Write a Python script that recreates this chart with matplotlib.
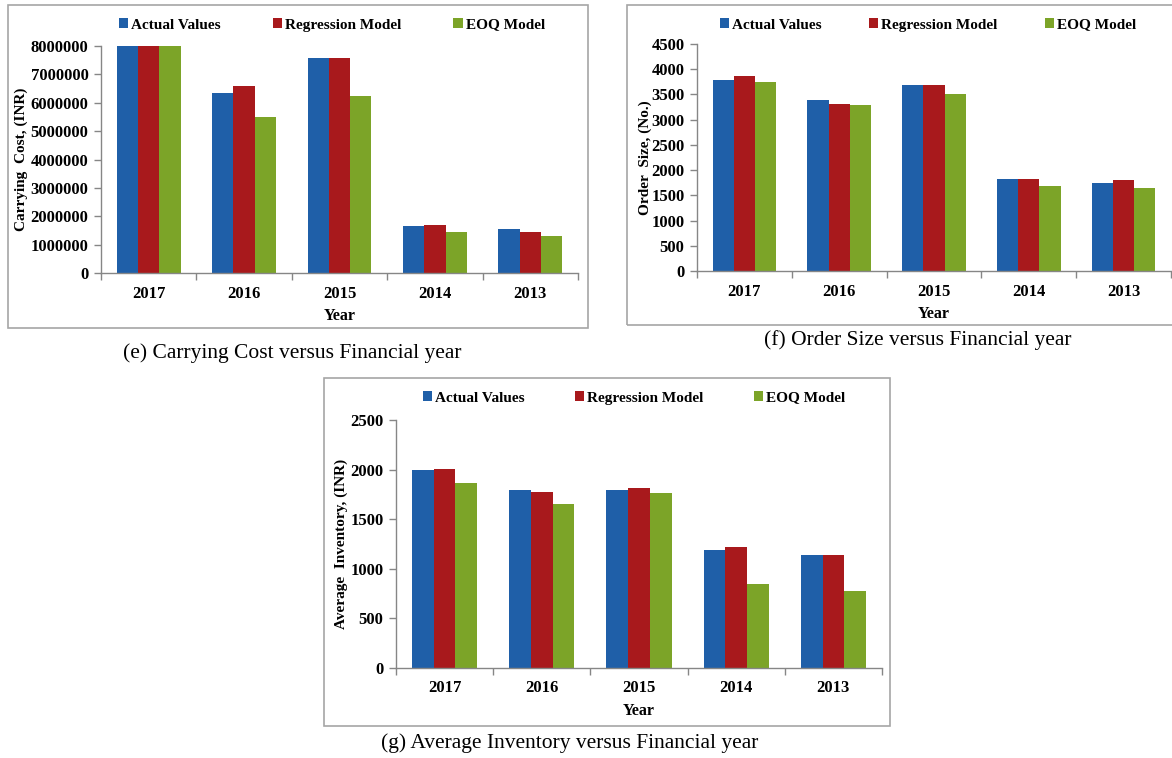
import numpy as np
import matplotlib
matplotlib.use("Agg")
import matplotlib.pyplot as plt
from matplotlib.patches import Rectangle
from matplotlib.ticker import FuncFormatter, FixedLocator

plt.rcParams['font.family'] = ['Liberation Serif', 'DejaVu Serif']

years = ["2017", "2016", "2015", "2014", "2013"]
series_names = ["Actual Values", "Regression Model", "EOQ Model"]
colors = ["#1F5FA8", "#A8191C", "#7CA428"]

# (e) carrying cost
cost_actual = [8000000, 6350000, 7570000, 1660000, 1540000]
cost_regr = [8000000, 6600000, 7570000, 1700000, 1455000]
cost_eoq = [8000000, 5510000, 6250000, 1455000, 1315000]

# (f) order size
order_actual = [3790, 3393, 3685, 1829, 1749]
order_regr = [3857, 3313, 3685, 1816, 1796]
order_eoq = [3744, 3293, 3512, 1677, 1637]

# (g) average inventory
inv_actual = [1995, 1797, 1797, 1194, 1144]
inv_regr = [2005, 1777, 1810, 1221, 1144]
inv_eoq = [1864, 1649, 1766, 848, 777]

W, H = 1172, 758
fig = plt.figure(figsize=(W / 100, H / 100), dpi=100)


def px_axes(left, right, top, bottom):
    return fig.add_axes([left / W, 1 - bottom / H, (right - left) / W, (bottom - top) / H])


def frame(x0, y0, x1, y1):
    fig.patches.append(Rectangle((x0 / W, 1 - y1 / H), (x1 - x0) / W, (y1 - y0) / H,
                                 transform=fig.transFigure, fill=False,
                                 edgecolor="#a6a6a6", linewidth=1.2, clip_on=False))


def panel(box, axbox, data, ymax, ystep, ylabel, ylab_x, leg_xy, colsp, caption, cap_xy):
    frame(*box)
    ax = px_axes(*axbox)
    x = np.arange(len(years))
    w = 0.223
    for i, (vals, name, c) in enumerate(zip(data, series_names, colors)):
        ax.bar(x + (i - 1) * w, vals, width=w, color=c, label=name)
    ax.set_xlim(-0.5, len(years) - 0.5)
    ax.set_ylim(0, ymax)
    ax.set_yticks(np.arange(0, ymax + 1, ystep))
    ax.yaxis.set_major_formatter(FuncFormatter(lambda v, p: f"{int(v)}"))
    ax.xaxis.set_major_locator(FixedLocator(np.arange(-0.5, len(years), 1.0)))
    ax.set_xticks(x, minor=True)
    ax.set_xticklabels([], minor=False)
    ax.set_xticklabels(years, minor=True)
    ax.tick_params(axis="x", which="minor", length=0, pad=9, labelsize=12)
    ax.tick_params(axis="x", which="major", length=5, color="#868686", width=1)
    ax.tick_params(axis="y", length=5, color="#868686", width=1, labelsize=12, pad=4)
    for lab in ax.get_xticklabels(minor=True) + ax.get_yticklabels():
        lab.set_fontweight("bold")
    for s in ["top", "right"]:
        ax.spines[s].set_visible(False)
    for s in ["left", "bottom"]:
        ax.spines[s].set_color("#868686")
        ax.spines[s].set_linewidth(1)
    ax.set_xlabel("Year", fontsize=11.5, fontweight="bold", labelpad=5)
    fig.text(ylab_x / W, 1 - (axbox[2] + axbox[3]) / 2 / H, ylabel, rotation=90,
             ha="center", va="center", fontsize=11, fontweight="bold")
    ax.legend(loc="center", bbox_to_anchor=(leg_xy[0] / W, 1 - leg_xy[1] / H),
              bbox_transform=fig.transFigure, ncol=3, frameon=False,
              handlelength=0.6, handleheight=0.6, handletextpad=0.2,
              columnspacing=colsp, prop={"size": 11, "weight": "bold"})
    fig.text(cap_xy[0] / W, 1 - cap_xy[1] / H, caption, ha="center", va="center", fontsize=15.5)
    return ax


panel((8, 5, 588, 328), (101, 578, 46, 273), [cost_actual, cost_regr, cost_eoq],
      8000000, 1000000, "Carrying  Cost, (INR)", 21, (332, 25), 3.4,
      "(e) Carrying Cost versus Financial year", (292, 353))

panel((627, 5, 1185, 325), (697, 1171, 44, 271), [order_actual, order_regr, order_eoq],
      4500, 500, "Order  Size, (No.)", 645, (928, 25), 3.1,
      "(f) Order Size versus Financial year", (918, 340))

panel((324, 378, 890, 726), (396, 882, 420, 668), [inv_actual, inv_regr, inv_eoq],
      2500, 500, "Average  Inventory, (INR)", 341, (634, 398), 3.3,
      "(g) Average Inventory versus Financial year", (570, 743))

fig.savefig("out.png", dpi=100)
